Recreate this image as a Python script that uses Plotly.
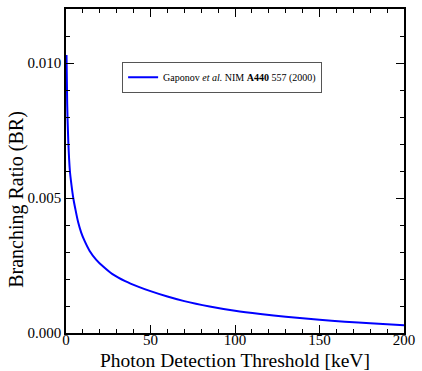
import plotly.graph_objects as go

threshold_kev = [0.3, 0.7, 1.35, 2.3, 3.2, 4.3, 5.5, 7.2, 9, 11, 14, 17.8, 22, 27.5, 35, 43, 50,
                 60, 70, 85, 100, 115, 130, 150, 165, 180, 200]
branching_ratio = [0.0103, 0.0085, 0.0071, 0.0060, 0.0055, 0.0050, 0.0046, 0.0041, 0.00372, 0.00341,
                   0.00304, 0.00272, 0.00246, 0.00218, 0.00192, 0.00171, 0.00155, 0.00135, 0.00118,
                   0.00098, 0.00082, 0.00070, 0.00060, 0.00049, 0.00042, 0.00036, 0.00029]
series_name = "Gaponov <i>et al.</i> NIM <b>A440</b> 557 (2000)"
x_title = "Photon Detection Threshold [keV]"
y_title = "Branching Ratio (BR)"

fig = go.Figure()
fig.add_trace(go.Scatter(x=threshold_kev, y=branching_ratio, mode="lines",
                         line=dict(color="#0000ff", width=2, shape="spline", smoothing=0.8),
                         name=series_name, showlegend=True))

font_family = "Liberation Serif"
axis_common = dict(showgrid=False, zeroline=False, showline=True, linecolor="black", linewidth=1.5,
                   mirror="allticks", ticks="inside", ticklen=8, tickwidth=1, tickcolor="black",
                   tickfont=dict(family=font_family, size=15, color="black"))

fig.update_xaxes(range=[0, 200], tick0=0, dtick=50, ticklabelstandoff=-8,
                 minor=dict(dtick=10, ticks="inside", ticklen=4, tickcolor="black", tickwidth=1),
                 **axis_common)
fig.update_yaxes(range=[0, 0.012], tick0=0, dtick=0.005, tickformat=".3f",
                 minor=dict(dtick=0.001, ticks="inside", ticklen=4, tickcolor="black", tickwidth=1),
                 **axis_common)

fig.add_annotation(text=x_title, xref="paper", yref="paper", x=0.5, y=-0.0835,
                   xanchor="center", yanchor="middle", showarrow=False,
                   font=dict(family=font_family, size=19.5, color="black"))
fig.add_annotation(text=y_title, xref="paper", yref="paper", x=-0.145, y=0.414,
                   xanchor="center", yanchor="middle", showarrow=False, textangle=-90,
                   font=dict(family=font_family, size=20, color="black"))

fig.update_layout(
    width=422, height=371,
    margin=dict(l=66, r=12, t=7, b=38),
    paper_bgcolor="white", plot_bgcolor="white",
    font=dict(family=font_family, color="black"),
    legend=dict(x=0.166, y=0.837, xanchor="left", yanchor="top",
                bordercolor="#555555", borderwidth=1, bgcolor="white",
                font=dict(family=font_family, size=10, color="black"),
                itemwidth=30, tracegroupgap=0),
)

fig.write_html("out.html")
